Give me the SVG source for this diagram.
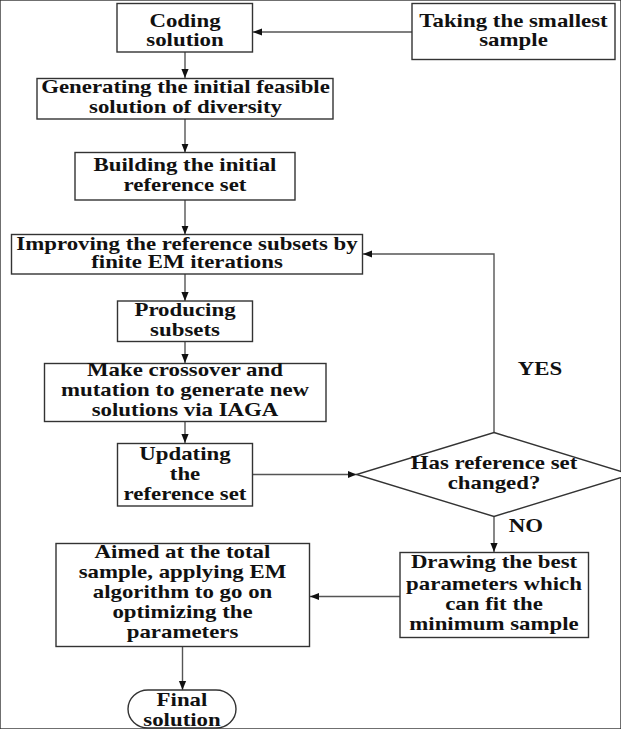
<svg xmlns="http://www.w3.org/2000/svg" width="621" height="729" viewBox="0 0 621 729">
<defs>
<marker id="ah" viewBox="0 0 10 10" refX="10" refY="5" markerWidth="9" markerHeight="9" markerUnits="userSpaceOnUse" orient="auto">
<path d="M0,1 L10,5 L0,9 Z" fill="#111"/>
</marker>
</defs>
<style>
rect,polygon{fill:#fff;stroke:#333;stroke-width:1.4}
text{font-family:"Liberation Serif","Times New Roman",serif;font-weight:bold;font-size:18px;fill:#111;text-anchor:middle}
.c{fill:none;stroke:#555;stroke-width:1.4;marker-end:url(#ah)}
</style>
<rect width="621" height="729" fill="#fff" stroke="none"/>
<g id="connectors">
<path class="c" d="M412,32 L253,32"/>
<path class="c" d="M185,52 L185,78"/>
<path class="c" d="M185,119 L185,152.5"/>
<path class="c" d="M185,200 L185,234.5"/>
<path class="c" d="M185,274 L185,301"/>
<path class="c" d="M185,341.5 L185,363"/>
<path class="c" d="M185,421.5 L185,443"/>
<path class="c" d="M252.5,474.5 L356.5,474.5"/>
<path class="c" d="M494,432 L494,254 L363,254"/>
<path class="c" d="M494,517 L494,552"/>
<path class="c" d="M400,596.5 L310,596.5"/>
<path class="c" d="M182.5,647 L182.5,690"/>
<g transform="translate(540,0) scale(1.27,1)"><text y="375">YES</text></g>
<g transform="translate(526,0) scale(1.27,1)"><text y="532.5">NO</text></g>
</g>
<g id="coding">
<rect x="117" y="3.5" width="135.5" height="48.5"/>
<g transform="translate(185,0) scale(1.27,1)"><text y="27.5">Coding</text><text y="46">solution</text></g>
</g>
<g id="taking">
<rect x="412" y="3.5" width="203" height="56"/>
<g transform="translate(513.5,0) scale(1.27,1)"><text y="27.5">Taking the smallest</text><text y="46">sample</text></g>
</g>
<g id="generating">
<rect x="37" y="78.5" width="296" height="40.5"/>
<g transform="translate(185.5,0) scale(1.27,1)"><text y="93.5">Generating the initial feasible</text><text y="113">solution of diversity</text></g>
</g>
<g id="building">
<rect x="75" y="152.5" width="220" height="47.5"/>
<g transform="translate(185,0) scale(1.27,1)"><text y="171.5">Building the initial</text><text y="191">reference set</text></g>
</g>
<g id="improving">
<rect x="11.5" y="234.5" width="351" height="39.5"/>
<g transform="translate(187,0) scale(1.27,1)"><text y="250">Improving the reference subsets by</text><text y="268">finite EM iterations</text></g>
</g>
<g id="producing">
<rect x="117.5" y="301" width="135" height="40.5"/>
<g transform="translate(185,0) scale(1.27,1)"><text y="316">Producing</text><text y="336">subsets</text></g>
</g>
<g id="crossover">
<rect x="44.5" y="363.5" width="281.5" height="58"/>
<g transform="translate(185,0) scale(1.27,1)"><text y="376.5">Make crossover and</text><text y="396.5">mutation to generate new</text><text y="416.5">solutions via IAGA</text></g>
</g>
<g id="updating">
<rect x="117.5" y="443.5" width="135" height="62.5"/>
<g transform="translate(185,0) scale(1.27,1)"><text y="460">Updating</text><text y="480">the</text><text y="500">reference set</text></g>
</g>
<g id="decision">
<polygon points="494,432.5 631,474.5 494,516.5 356.5,474.5"/>
<g transform="translate(494,0) scale(1.27,1)"><text y="469">Has reference set</text><text y="489">changed?</text></g>
</g>
<g id="drawing">
<rect x="400" y="552.5" width="188.5" height="85"/>
<g transform="translate(494,0) scale(1.27,1)"><text y="568.5">Drawing the best</text><text y="590">parameters which</text><text y="610">can fit the</text><text y="630.5">minimum sample</text></g>
</g>
<g id="aimed">
<rect x="56" y="543.5" width="253.5" height="103"/>
<g transform="translate(182.5,0) scale(1.27,1)"><text y="558.5">Aimed at the total</text><text y="578.5">sample, applying EM</text><text y="598.5">algorithm to go on</text><text y="618.5">optimizing the</text><text y="638.5">parameters</text></g>
</g>
<g id="final">
<rect x="128" y="690" width="108" height="38" rx="20" ry="19"/>
<g transform="translate(182,0) scale(1.27,1)"><text y="706.5">Final</text><text y="726">solution</text></g>
</g>
</svg>
